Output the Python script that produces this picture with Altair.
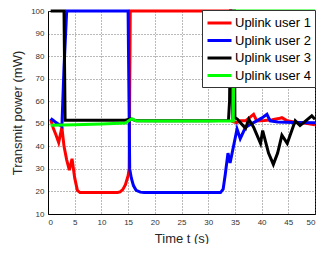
import altair as alt
import pandas as pd

series = ["Uplink user 1", "Uplink user 2", "Uplink user 3", "Uplink user 4"]
colors = ["#ff0000", "#0000ff", "#000000", "#00ff00"]

t1 = [0.5, 1.0, 1.5, 2.0, 2.6, 3.0, 3.5, 4.0, 4.5, 5.0, 5.5, 6.0, 8, 10, 12, 13.0,
      13.5, 14.0, 14.5, 15.0, 15.2, 15.4, 20, 25, 30, 34.2, 34.6, 35.3, 36.0, 37.0,
      38.5, 39.1, 40.5, 42.0, 43.2, 43.8, 44.8, 46.0, 48.0, 50.0]
p1 = [52, 48, 45, 41.7, 48.4, 40, 34, 29.4, 34.5, 26, 20.5, 19.5, 19.5, 19.5, 19.5, 19.5,
      19.8, 20.8, 23, 27, 30, 100, 100, 100, 100, 100, 51, 50.5, 51.3, 51.3,
      54.2, 51.3, 51.5, 51.8, 52.3, 52.7, 51.3, 50.8, 50.3, 49.6]

t2 = [0.5, 1.0, 1.5, 2.0, 2.6, 3.0, 3.5, 10, 15.0, 15.3, 15.6, 16.0, 16.5, 17.3, 18,
      25, 32.3, 32.8, 33.2, 33.7, 34.1, 35.4, 36.0, 37.0, 38.5, 40.0, 41.0, 41.6,
      43.0, 46.0, 50.0]
p2 = [52.3, 51.5, 50.5, 49.8, 48.9, 75, 100, 100, 100, 30, 26, 22.6, 20.5, 19.7, 19.5,
      19.5, 19.5, 21, 27.6, 37, 32.6, 47.7, 43.4, 48.5, 50.5, 52.5, 54.2, 51.3,
      50.8, 50.6, 50.5]

t3 = [0.5, 1.0, 2.0, 3.0, 3.2, 5, 10, 14.5, 15.5, 16.5, 20, 30, 33.8, 34.0, 34.2,
      34.9, 35.0, 35.5, 36.0, 37.0, 37.6, 38.5, 39.8, 40.2, 41.3, 42.2, 43.0, 43.8,
      44.8, 46.3, 47.2, 49.4, 50.0]
p3 = [100, 100, 100, 100, 51.6, 51.6, 51.6, 51.6, 52.2, 51.3, 51.3, 51.3, 51.5, 60, 100,
      100, 52.8, 52, 50.6, 48, 52, 48.5, 41.3, 47, 37, 32, 37, 44.9,
      41.3, 51.3, 49.2, 53.5, 52]

t4 = [0.5, 5, 10, 14.5, 15.2, 15.7, 16.5, 20, 30, 34.7, 34.9, 40, 50]
p4 = [49.3, 49.6, 49.9, 50.3, 51.5, 52.2, 51.3, 51.2, 51.2, 51.2, 100, 100, 100]

x_ticks = [0, 5, 10, 15, 20, 25, 30, 35, 40, 45, 50]
y_ticks = [10, 20, 30, 40, 50, 60, 70, 80, 90, 100]

rows = []
for name, ts, ps in zip(series, [t1, t2, t3, t4], [p1, p2, p3, p4]):
    for i, (t, p) in enumerate(zip(ts, ps)):
        rows.append({"user": name, "t": t, "p": p, "i": i})
df = pd.DataFrame(rows)

chart = alt.Chart(df).mark_line(strokeWidth=3, clip=False).encode(
    x=alt.X("t:Q", scale=alt.Scale(domain=[0, 50], nice=False),
            axis=alt.Axis(title="Time t (s)", values=x_ticks, labelPadding=4,
                          titlePadding=6)),
    y=alt.Y("p:Q", scale=alt.Scale(domain=[10, 100], nice=False, zero=False),
            axis=alt.Axis(title="Transmit power (mW)", values=y_ticks, labelPadding=4,
                          titlePadding=6)),
    color=alt.Color("user:N", scale=alt.Scale(domain=series, range=colors),
                    legend=alt.Legend(title=None, orient="none", legendX=154, legendY=-1,
                                      symbolType="M-1.6,0H1.6", symbolStrokeWidth=3,
                                      symbolSize=225, symbolOffset=4.5,
                                      labelFontSize=13, rowPadding=1.5,
                                      padding=4, strokeColor="#333333", fillColor="white",
                                      labelOffset=6.5, labelColor="#000000",
                                      labelFont="Liberation Sans")),
    order="i:Q",
).properties(
    width=267, height=203,
    padding={"left": 40, "top": 3, "right": 5, "bottom": 30},
    autosize=alt.AutoSizeParams(type="none"),
).configure_view(
    stroke="#000000", strokeWidth=1
).configure_axis(
    ticks=False, grid=True, gridDash=[1, 2], gridColor="#666666", gridOpacity=0.9,
    domainColor="#000000", labelFont="Liberation Sans", labelFontSize=8,
    labelColor="#333333", titleFont="Liberation Sans", titleFontSize=13,
    titleFontWeight="normal", titleColor="#262626"
)

chart.save("out.html", embed_options={"renderer": "svg", "actions": False})
